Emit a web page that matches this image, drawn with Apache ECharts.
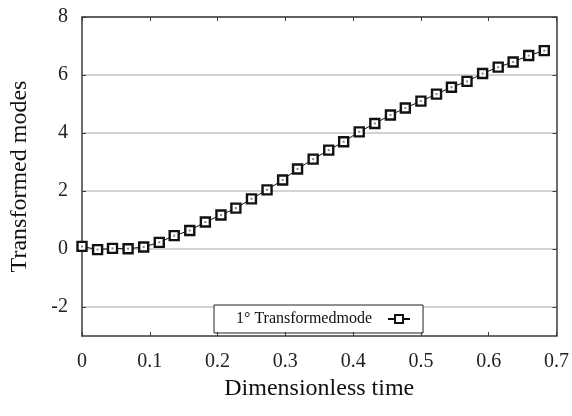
<!DOCTYPE html>
<html>
<head>
<meta charset="utf-8">
<script src="https://cdn.jsdelivr.net/npm/echarts@6/dist/echarts.min.js"></script>
<style>
  html, body { margin: 0; padding: 0; background: #fff; }
  #chart { width: 572px; height: 416px; }
</style>
</head>
<body>
<div id="chart"></div>
<script>
// dimensionless time of each sample
var times = [0, 0.023, 0.045, 0.068, 0.091, 0.114, 0.136, 0.159, 0.182, 0.205,
  0.227, 0.25, 0.273, 0.296, 0.318, 0.341, 0.364, 0.386, 0.409, 0.432,
  0.455, 0.477, 0.5, 0.523, 0.545, 0.568, 0.591, 0.614, 0.636, 0.659, 0.682];
// 1st transformed mode
var mode1 = [0.09, -0.02, 0.02, 0.01, 0.07, 0.23, 0.46, 0.64, 0.93, 1.17,
  1.41, 1.73, 2.04, 2.38, 2.76, 3.10, 3.41, 3.70, 4.04, 4.33,
  4.62, 4.86, 5.10, 5.34, 5.58, 5.78, 6.05, 6.27, 6.45, 6.67, 6.84];
var yTicks = [-2, 0, 2, 4, 6, 8];
var seriesName = '1° Transformedmode';

var serif = '"Liberation Serif", "DejaVu Serif", serif';
var axisColor = '#3a3a3a';

var pts = times.map(function (t, i) { return [t, mode1[i]]; });

var chart = echarts.init(document.getElementById('chart'));
chart.setOption({
  animation: false,
  backgroundColor: '#fff',
  grid: { left: 80, right: 15, top: 17, bottom: 80 },
  legend: {
    left: 214,
    top: 305,
    align: 'right',
    padding: [6, 12, 6, 22],
    borderColor: '#222',
    borderWidth: 1,
    backgroundColor: '#fff',
    itemWidth: 22,
    itemHeight: 10,
    z: 1,
    textStyle: { fontFamily: serif, fontSize: 16, lineHeight: 14, color: '#111', padding: [0, 11, 0, 0] },
    data: [seriesName]
  },
  xAxis: [{
    type: 'value',
    min: 0, max: 0.7, interval: 0.1,
    z: 2,
    name: 'Dimensionless time',
    nameLocation: 'middle',
    nameGap: 40,
    nameTextStyle: { fontFamily: serif, fontSize: 24, color: '#111' },
    axisLine: { show: true, onZero: false, lineStyle: { color: axisColor, width: 1.5 } },
    axisTick: { show: true, inside: true, length: 4, lineStyle: { color: axisColor } },
    axisLabel: { fontFamily: serif, fontSize: 20, color: '#222', margin: 16 },
    splitLine: { show: false }
  }, {
    type: 'value',
    position: 'top',
    min: 0, max: 0.7, interval: 0.1,
    z: 2,
    axisLine: { show: true, onZero: false, lineStyle: { color: axisColor, width: 1.5 } },
    axisTick: { show: true, inside: true, length: 4, lineStyle: { color: axisColor } },
    axisLabel: { show: false },
    splitLine: { show: false }
  }],
  yAxis: [{
    type: 'value',
    min: -3, max: 8,
    z: 0,
    name: 'Transformed modes',
    nameLocation: 'middle',
    nameGap: 50,
    nameTextStyle: { fontFamily: serif, fontSize: 24, color: '#111' },
    axisLine: { show: true, onZero: false, lineStyle: { color: axisColor, width: 1.5 } },
    axisTick: { show: true, inside: true, length: 4, customValues: yTicks, lineStyle: { color: axisColor } },
    axisLabel: { fontFamily: serif, fontSize: 20, color: '#222', margin: 14, customValues: yTicks },
    splitLine: { show: true, lineStyle: { color: '#c4c4c4', width: 1.5 } }
  }, {
    type: 'value',
    position: 'right',
    min: -3, max: 8,
    z: 2,
    axisLine: { show: true, onZero: false, lineStyle: { color: axisColor, width: 1.5 } },
    axisTick: { show: true, inside: true, length: 4, customValues: yTicks, lineStyle: { color: axisColor } },
    axisLabel: { show: false },
    splitLine: { show: false }
  }],
  series: [{
    name: seriesName,
    type: 'line',
    data: pts,
    symbol: 'rect',
    symbolSize: 9,
    showAllSymbol: true,
    lineStyle: { color: '#111', width: 1 },
    itemStyle: { color: '#fff', borderColor: '#111', borderWidth: 2.4 },
    z: 3
  }, {
    // small dot inside each square marker
    type: 'scatter',
    data: pts,
    symbol: 'rect',
    symbolSize: 2,
    itemStyle: { color: '#666' },
    silent: true,
    z: 4
  }]
});
</script>
</body>
</html>
